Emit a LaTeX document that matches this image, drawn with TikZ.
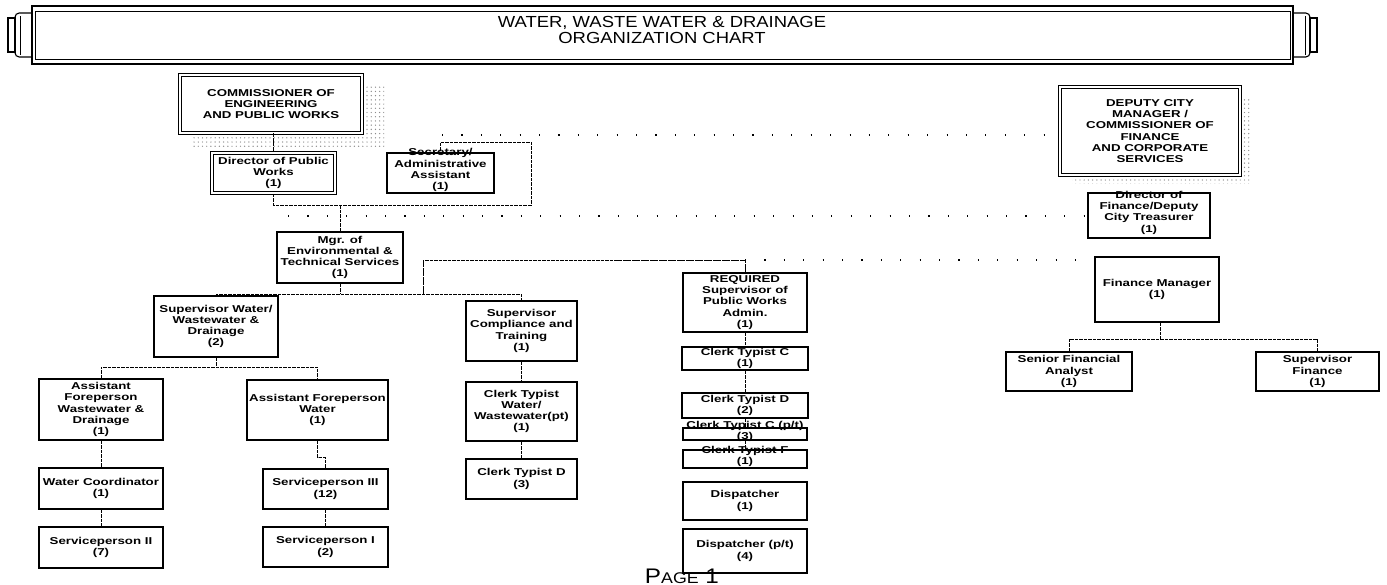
\documentclass[tikz,border=0pt]{standalone}
\usepackage{fontspec}
\setmainfont{Liberation Sans}
\newfontfamily\boxfont{Liberation Sans}[FakeStretch=1.33]
\newfontfamily\headfont{Liberation Sans}[FakeStretch=1.15]
\usetikzlibrary{patterns}

% text that may run over the edge of its box
\newcommand\ovr[1]{\smash{\begin{tabular}{@{}c@{}}#1\end{tabular}}}

\begin{document}
\begin{tikzpicture}[x=0.025cm, y=-0.025cm,
    post/.style={draw, fill=white, line width=1.1pt, inner sep=0pt, align=center, font=\boxfont\bfseries\fontsize{7.1}{8}\selectfont},
    chief/.style={post, double, double distance=1.1pt, line width=0.7pt},
    sz/.style 2 args={minimum width=#1*0.025cm, minimum height=#2*0.025cm},
    link/.style={line width=0.6pt, dash pattern=on 2.5pt off 0.7pt},
    faint/.style={line width=0.8pt, dash pattern=on 0.8pt off 13pt},
    shade/.style={pattern=dots, pattern color=black!45},
]
\useasboundingbox (0,0) rectangle (1387,585);

% ---------- title banner ----------
\draw[line width=1pt] (32,6) rectangle (1293,64);
\draw[line width=0.6pt] (35,11) rectangle (1290,59);
\draw[line width=0.8pt, rounded corners=3pt] (32,13) -- (15,13) -- (15,57) -- (32,57);
\draw[line width=0.8pt] (8,18) rectangle (15,52);
\draw[line width=0.6pt] (20,16) -- (20,55);
\draw[line width=0.8pt, rounded corners=3pt] (1293,13) -- (1310,13) -- (1310,57) -- (1293,57);
\draw[line width=0.8pt] (1310,18) rectangle (1317,52);
\draw[line width=0.6pt] (1305,16) -- (1305,55);
\node[align=center, font=\headfont\fontsize{11.4}{12}\selectfont] (title) at (662,30)
    {WATER, WASTE WATER \& DRAINAGE\\ORGANIZATION CHART};

% ---------- engineering side ----------
\fill[shade] (192,86) rectangle (384,146);
\node[chief, sz={182}{58}] (comm) at (271,104) {COMMISSIONER OF\\ENGINEERING\\AND PUBLIC WORKS};
\node[post, double, line width=1.1pt, double distance=1.2pt, sz={123}{40}] (dirpw) at (273.5,173) {Director of Public\\Works\\(1)};
\node[post, sz={107}{40}] (sec) at (440.5,173) {\ovr{Secretary/\\Administrative\\Assistant\\(1)}};
\node[post, sz={126}{51}] (mgr) at (340,257.5) {Mgr. of\\Environmental \&\\Technical Services\\(1)};

\node[post, sz={124}{61}] (supw) at (216,326.5) {Supervisor Water/\\Wastewater \&\\Drainage\\(2)};
\node[post, sz={124}{61}] (afww) at (101,409.5) {Assistant\\Foreperson\\Wastewater \&\\Drainage\\(1)};
\node[post, sz={141}{60}] (afw) at (317.5,410) {Assistant Foreperson\\Water\\(1)};
\node[post, sz={124}{41}] (wcoord) at (101,488.5) {Water Coordinator\\(1)};
\node[post, sz={125}{40}] (sp3) at (325.5,489) {Serviceperson III\\(12)};
\node[post, sz={124}{41}] (sp2) at (101,547.5) {Serviceperson II\\(7)};
\node[post, sz={125}{40}] (sp1) at (325.5,547) {Serviceperson I\\(2)};

\node[post, sz={111}{60}] (supc) at (521.5,331) {Supervisor\\Compliance and\\Training\\(1)};
\node[post, sz={111}{59}] (ctww) at (521.5,411.5) {Clerk Typist\\Water/\\Wastewater(pt)\\(1)};
\node[post, sz={111}{40}] (ctd3) at (521.5,479) {Clerk Typist D\\(3)};

\node[post, sz={124}{59}] (req) at (745,302.5) {REQUIRED\\Supervisor of\\Public Works\\Admin.\\(1)};
\node[post, sz={126}{23}] (ctc1) at (745,358.5) {Clerk Typist C\\(1)};
\node[post, sz={126}{25}] (ctd2) at (745,405.5) {Clerk Typist D\\(2)};
\node[post, sz={124}{12}] (ctcp) at (745,434) {\ovr{Clerk Typist C (p/t)\\(3)}};
\node[post, sz={124}{18}] (ctf) at (745,459) {\ovr{Clerk Typist F\\(1)}};
\node[post, sz={124}{38}] (disp1) at (745,501) {Dispatcher\\(1)};
\node[post, sz={124}{44}] (disp4) at (745,551) {Dispatcher (p/t)\\(4)};

% ---------- finance side ----------
\fill[shade] (1072,98) rectangle (1250,183);
\node[chief, sz={180}{88}] (dep) at (1150,131) {DEPUTY CITY\\MANAGER /\\COMMISSIONER OF\\FINANCE\\AND CORPORATE\\SERVICES};
\node[post, sz={122}{45}] (dirfin) at (1149,215.5) {\ovr{Director of\\Finance/Deputy\\City Treasurer\\(1)}};
\node[post, sz={124}{65}] (finmgr) at (1157,289.5) {Finance Manager\\(1)};
\node[post, sz={126}{39}] (sfa) at (1069,371.5) {Senior Financial\\Analyst\\(1)};
\node[post, sz={123}{39}] (supf) at (1317.5,371.5) {Supervisor\\Finance\\(1)};

% ---------- connectors ----------
\coordinate (jdir) at (273.5,205);
\coordinate (secloop) at (531,142);
\coordinate (hub) at (340,294);
\coordinate (reqbend) at (423,260);
\coordinate (jsw) at (216,367);
\coordinate (jfin) at (1160,339);

\draw[link] (comm.south -| dirpw.north) -- (dirpw.north);
\draw[link] (dirpw.south) -- (jdir) -| (secloop) -| (sec.north);
\draw[link] (jdir -| mgr.north) -- (mgr.north);
\draw[link] (mgr.south) -- (hub);
\draw[link] (supw.north) |- (hub) -| (supc.north);
\draw[link] (hub -| reqbend) -- (reqbend) -| (req.north);

\draw[link] (supw.south) -- (jsw);
\draw[link] (afww.north) |- (jsw) -| (afw.north);
\draw[link] (afww.south) -- (wcoord.north);
\draw[link] (wcoord.south) -- (sp2.north);
\draw[link] (afw.south) -- ++(0,17) -| (sp3.north);
\draw[link] (sp3.south) -- (sp1.north);

\draw[link] (supc.south) -- (ctww.north);
\draw[link] (ctww.south) -- (ctd3.north);
\foreach \a/\b in {req/ctc1, ctc1/ctd2, ctd2/ctcp, ctcp/ctf}
    \draw[link] (\a.south) -- (\b.north);

\draw[link] (jfin |- finmgr.south) -- (jfin);
\draw[link] (sfa.north) |- (jfin) -| (supf.north);

% faint dotted ties to the finance side
\coordinate (f1) at (442,135);
\coordinate (f2) at (288,216);
\draw[faint] (f1) -- (f1 -| dep.west);
\draw[faint] (f2) -- (f2 -| dirfin.west);
\draw[faint] (reqbend -| req.north) -- (reqbend -| finmgr.west);

\node[anchor=base west, font=\headfont\fontsize{15}{15}\selectfont] (page) at (640,583) {P{\fontsize{11}{11}\selectfont AGE} 1};
\end{tikzpicture}
\end{document}
